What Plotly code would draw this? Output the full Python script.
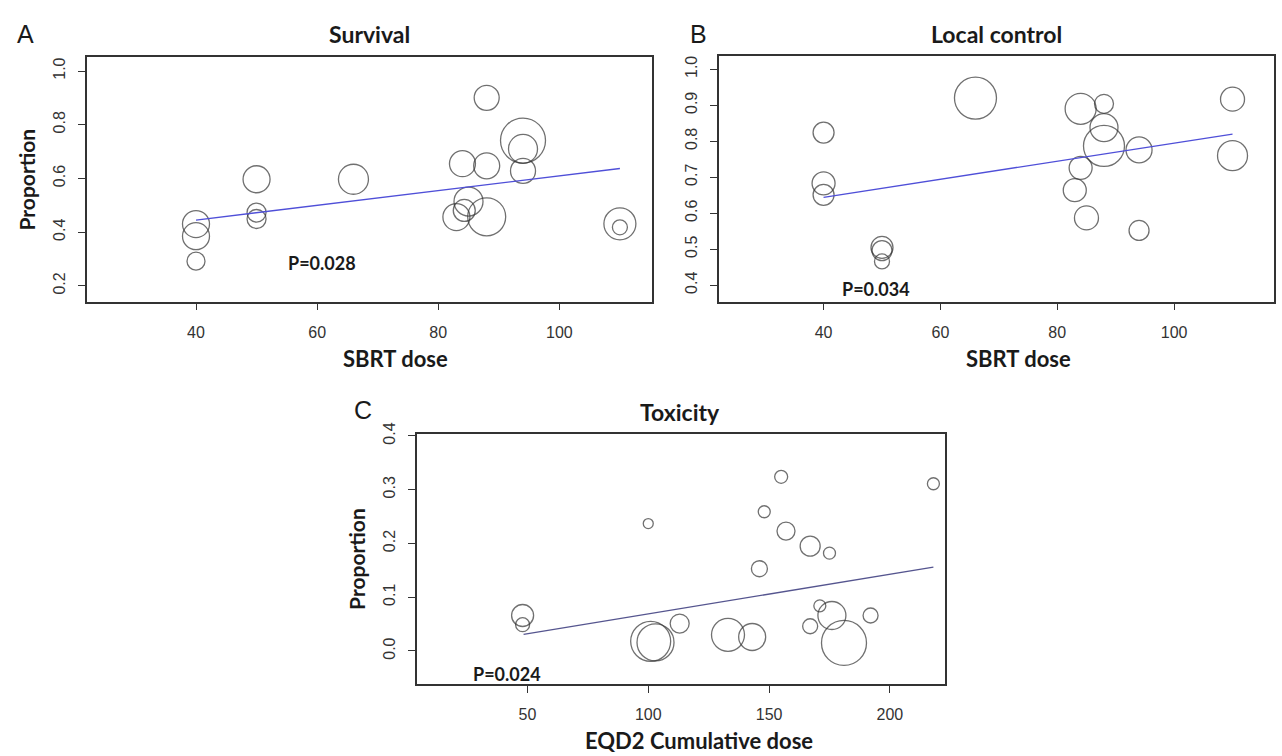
import plotly.graph_objects as go

W, H = 1282, 756

# ---------------- data ----------------
# Panel A: Survival vs SBRT dose
surv_dose = [40, 40, 40, 50, 50, 50, 66, 88, 94, 94, 94, 84, 88, 85, 84.3, 83, 88, 110, 110]
surv_prop = [0.43, 0.385, 0.292, 0.597, 0.473, 0.449, 0.597, 0.90, 0.741, 0.71, 0.628,
             0.655, 0.647, 0.514, 0.481, 0.456, 0.457, 0.431, 0.418]
surv_size = [27, 27, 18, 27, 19, 19, 30, 25, 45, 29, 25, 26, 26, 29, 22, 27, 38, 32, 15]
surv_fit_x = [40, 110]
surv_fit_y = [0.445, 0.637]

# Panel B: Local control vs SBRT dose
lc_dose = [40, 40, 40, 50, 50, 50, 66, 84, 88, 88, 88, 94, 84, 83, 85, 94, 110, 110]
lc_prop = [0.824, 0.683, 0.651, 0.505, 0.496, 0.466, 0.92, 0.89, 0.904, 0.838, 0.787,
           0.776, 0.726, 0.664, 0.587, 0.552, 0.917, 0.76]
lc_size = [21, 23, 21, 22, 20, 15, 42, 31, 19, 28, 41, 26, 23, 23, 24, 20, 24, 30]
lc_fit_x = [40, 110]
lc_fit_y = [0.644, 0.82]

# Panel C: Toxicity vs EQD2 cumulative dose
tox_dose = [48, 48, 100, 155, 148, 157, 167, 175, 146, 218, 113, 101, 103, 133, 143,
            171, 167, 176, 181, 192]
tox_prop = [0.066, 0.049, 0.237, 0.324, 0.259, 0.223, 0.195, 0.182, 0.153, 0.311, 0.051,
            0.018, 0.016, 0.030, 0.026, 0.084, 0.046, 0.066, 0.015, 0.066]
tox_size = [22, 14, 10, 13, 12, 18, 20, 12, 16, 12, 19, 40, 37, 33, 27, 12, 15, 28, 45, 15]
tox_fit_x = [48.4, 218]
tox_fit_y = [0.031, 0.156]

surv_yticks = [0.2, 0.4, 0.6, 0.8, 1.0]
lc_yticks = [0.4, 0.5, 0.6, 0.7, 0.8, 0.9, 1.0]
tox_yticks = [0.0, 0.1, 0.2, 0.3, 0.4]
sbrt_xticks = [40, 60, 80, 100]
eqd2_xticks = [50, 100, 150, 200]


def px(x):
    return x / W


def py(y):
    return 1 - y / H


CIRCLE = "#333333"
LINE_AB = "#4f4fd8"
LINE_C = "#55558f"
TICKFONT = dict(family="Liberation Sans, Arial, sans-serif", size=16, color="#333333")
BOLD = "Lato, Open Sans, sans-serif"

fig = go.Figure()


def add_panel(xa, ya, x, y, s, fx, fy, lc):
    fig.add_trace(go.Scatter(
        x=x, y=y, mode="markers", xaxis=xa, yaxis=ya, showlegend=False,
        marker=dict(symbol="circle-open", size=s, color=CIRCLE,
                    line=dict(width=1.3, color=CIRCLE)),
        hoverinfo="x+y"))
    fig.add_trace(go.Scatter(
        x=fx, y=fy, mode="lines", xaxis=xa, yaxis=ya, showlegend=False,
        line=dict(color=lc, width=1.3), hoverinfo="skip"))


add_panel("x", "y", surv_dose, surv_prop, surv_size, surv_fit_x, surv_fit_y, LINE_AB)
add_panel("x2", "y2", lc_dose, lc_prop, lc_size, lc_fit_x, lc_fit_y, LINE_AB)
add_panel("x3", "y3", tox_dose, tox_prop, tox_size, tox_fit_x, tox_fit_y, LINE_C)

axis_common = dict(showline=True, mirror=True, linecolor="#333333", linewidth=1.5,
                   ticks="outside", ticklen=7, tickwidth=1.2, tickcolor="#333333",
                   showgrid=False, zeroline=False, tickfont=TICKFONT)


def xaxis(domain, rng, tickvals, anchor):
    d = dict(axis_common)
    d.update(domain=domain, range=rng, tickvals=tickvals,
             ticktext=[str(v) for v in tickvals], anchor=anchor,
             ticklabelstandoff=8)
    return d


def yaxis(domain, rng, tickvals, anchor):
    d = dict(axis_common)
    d.update(domain=domain, range=rng, tickvals=tickvals,
             ticktext=[f"{v:.1f}" for v in tickvals], anchor=anchor,
             tickangle=-90, ticklabelstandoff=7)
    return d


fig.update_layout(
    width=W, height=H,
    margin=dict(l=0, r=0, t=0, b=0),
    paper_bgcolor="white", plot_bgcolor="white",
    xaxis=xaxis([px(87), px(652)], [22, 115.3], sbrt_xticks, "y"),
    yaxis=yaxis([py(295), py(47)], [0.141, 1.051], surv_yticks, "x"),
    xaxis2=xaxis([px(719), px(1274)], [22.1, 117.1], sbrt_xticks, "y2"),
    yaxis2=yaxis([py(295), py(46)], [0.354, 1.036], lc_yticks, "x2"),
    xaxis3=xaxis([px(417), px(945)], [4.3, 222.8], eqd2_xticks, "y3"),
    yaxis3=yaxis([py(683), py(429)], [-0.0615, 0.404], tox_yticks, "x3"),
)


def ann(text, x, y, size, bold=False, family=None, angle=0, color="#1a1a1a"):
    fam = family or (BOLD if bold else "Liberation Sans, Arial, sans-serif")
    fig.add_annotation(
        text=f"<b>{text}</b>" if bold else text,
        x=px(x), y=py(y), xref="paper", yref="paper",
        xanchor="center", yanchor="middle", showarrow=False, textangle=angle,
        font=dict(family=fam, size=size, color=color))


# panel letters
ann("A", 25, 23, 25)
ann("B", 698, 23, 25)
ann("C", 363, 405, 25)
# panel titles
ann("Survival", 370, 23, 23, bold=True)
ann("Local control", 996, 23, 23, bold=True)
ann("Toxicity", 680, 407, 23, bold=True)
# axis titles
ann("Proportion", 27, 171, 21, bold=True, angle=-90)
ann("Proportion", 357, 556, 21, bold=True, angle=-90)
ann("SBRT dose", 395, 353, 22, bold=True)
ann("SBRT dose", 1018, 353, 22, bold=True)
ann("EQD2 Cumulative dose", 699, 740, 22, bold=True)
# p-values
ann("P=0.028", 322, 256, 18, bold=True)
ann("P=0.034", 876, 282, 18, bold=True)
ann("P=0.024", 507, 673, 18, bold=True)

fig.write_html(
    "out.html",
    config={"displayModeBar": False},
    post_script="document.body.style.margin='0px';document.body.style.overflow='hidden';",
)
